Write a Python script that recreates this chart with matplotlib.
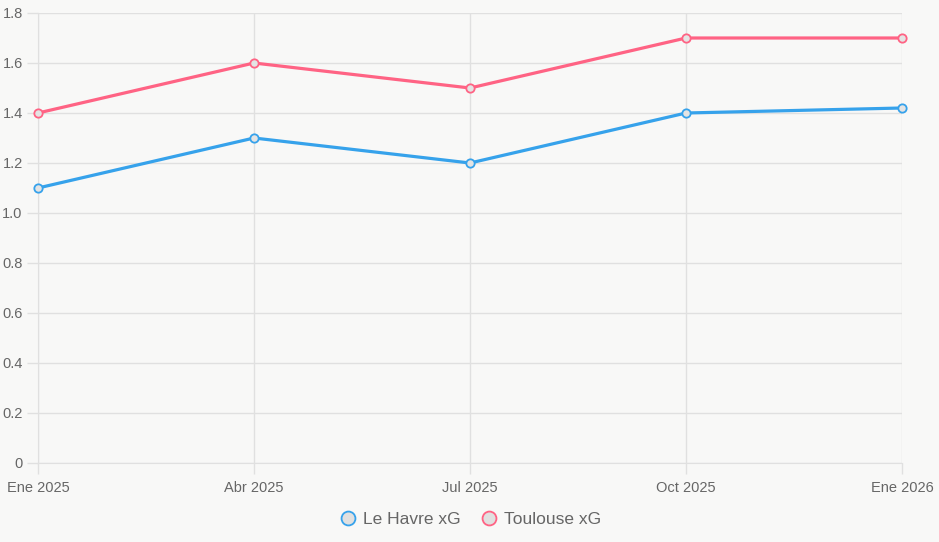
import matplotlib
matplotlib.use("Agg")
import matplotlib.pyplot as plt
from matplotlib.lines import Line2D

# Data
labels = ["Ene 2025", "Abr 2025", "Jul 2025", "Oct 2025", "Ene 2026"]
le_havre = [1.1, 1.3, 1.2, 1.4, 1.42]
toulouse = [1.4, 1.6, 1.5, 1.7, 1.7]

blue = "#36A2EB"
pink = "#FF6384"
bg = "#f8f8f7"
grid = "#e0e0e0"
txt = "#666666"

plt.rcParams['font.family'] = ['Liberation Sans', 'DejaVu Sans']

fig = plt.figure(figsize=(9.39, 5.42), dpi=100, facecolor=bg)
ax = fig.add_axes([38/939, 1 - 463/542, (902-38)/939, (463-13)/542], facecolor=bg)

x = list(range(len(labels)))
for y, c in [(le_havre, blue), (toulouse, pink)]:
    ax.plot(x, y, color=c, lw=2.3, marker="o", ms=6, mfc="#e4e4e4", mec=c, mew=1.3,
            solid_capstyle="round", zorder=3, clip_on=False)

ax.set_xlim(0, len(labels) - 1)
ax.set_ylim(0, 1.8)
ax.set_xticks(x)
ax.set_xticklabels(labels)
yt = [0, 0.2, 0.4, 0.6, 0.8, 1.0, 1.2, 1.4, 1.6, 1.8]
ax.set_yticks(yt)
ax.set_yticklabels(["0"] + ["%.1f" % v for v in yt[1:]])

ax.grid(True, color=grid, lw=1)
ax.set_axisbelow(True)
for s in ax.spines.values():
    s.set_visible(False)
ax.spines["left"].set_visible(True)
ax.spines["bottom"].set_visible(True)
ax.spines["left"].set_color(grid)
ax.spines["bottom"].set_color(grid)
ax.tick_params(axis="both", colors=grid, labelcolor=txt, labelsize=10.5, length=8, width=1)
ax.tick_params(axis="y", pad=3)
ax.tick_params(axis="x", pad=5)

handles = [Line2D([], [], ls="none", marker="o", ms=10, mfc="#e0e0e0", mec=blue, mew=1.3),
           Line2D([], [], ls="none", marker="o", ms=10, mfc="#e0e0e0", mec=pink, mew=1.3)]
fig.legend(handles, ["Le Havre xG", "Toulouse xG"], loc="center", bbox_to_anchor=(0.5, 1 - 519/542),
           ncol=2, frameon=False, fontsize=12.5, labelcolor=txt, handletextpad=0.3,
           columnspacing=1.0, handlelength=1.2)

fig.savefig("out.png", dpi=100, facecolor=bg)
